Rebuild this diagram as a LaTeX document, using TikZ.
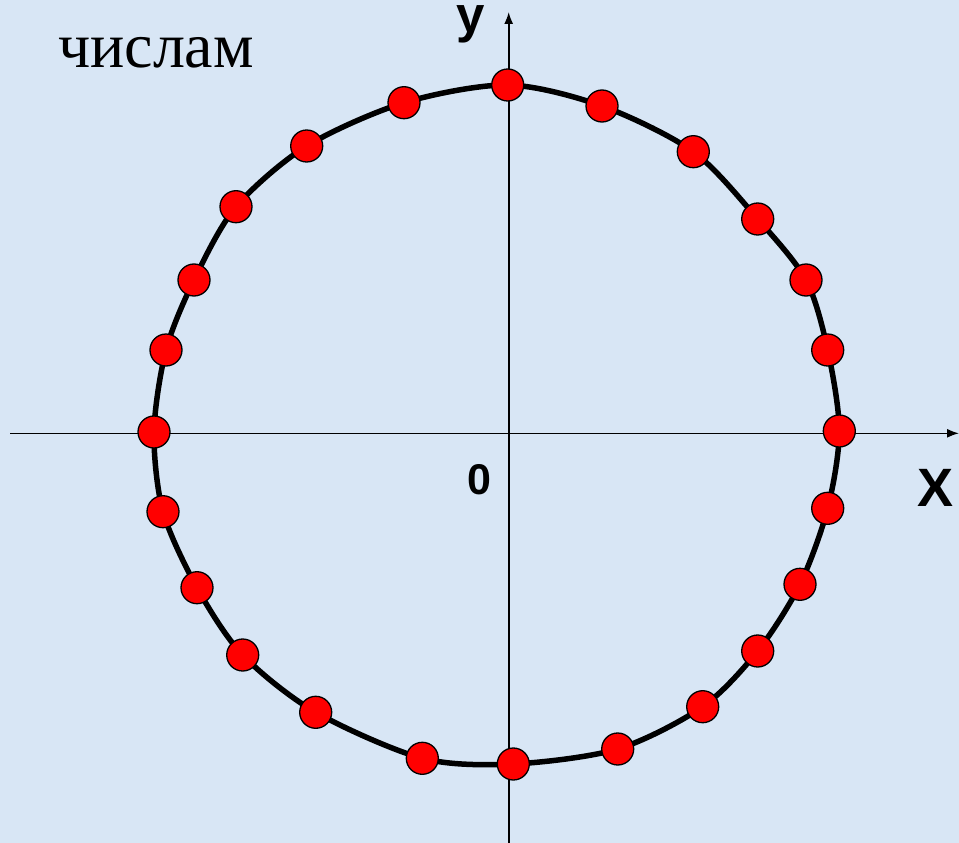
\documentclass[tikz,border=0pt]{standalone}
\usepackage{fontspec}
\setmainfont{Liberation Serif}
\newfontfamily\axisfont{Liberation Sans}
\usetikzlibrary{arrows.meta}
\definecolor{PaleSky}{RGB}{216,230,245}
\definecolor{DotRed}{RGB}{255,0,0}
\tikzset{
  axis/.style={-{Latex[length=12pt,width=9pt]},line width=1.6pt,black},
  ring/.style={line width=5.5pt,black},
  dot/.style={circle,draw=black,fill=DotRed,line width=1.3pt,
    minimum size=32pt,inner sep=0pt},
  axislabel/.style={inner sep=0pt}
}

\begin{document}
\begin{tikzpicture}[x=1pt,y=-1pt]

\clip (0,0) rectangle (959,843);
\fill[PaleSky] (0,0) rectangle (959,843);

% points on the circle, clockwise from the top
\foreach \px/\py [count=\i] in {507.7/85,602/106,693.3/151.7,757.7/219,
  806/280,827.7/350,839.3/431,827.7/508.3,800/584.3,757.7/651,702.7/706.7,
  617.7/749,513.3/764,422.3/758.3,315.7/712.3,242.7/655,197/587.7,
  163/511.7,154/432,166/350,194/280,236/206.7,306.7/146,404/102.7}
  \coordinate (p\i) at (\px,\py);

\coordinate (xstart) at (10,433.3);
\coordinate (xend) at (959,433.3);
\coordinate (ystart) at (508.7,843);
\coordinate (yend) at (508.7,12);

\draw[axis] (xstart) -- (xend);
\draw[axis] (ystart) -- (yend);

\draw[ring] plot[smooth cycle] coordinates {(p1) (p2) (p3) (p4) (p5) (p6)
  (p7) (p8) (p9) (p10) (p11) (p12) (p13) (p14) (p15) (p16) (p17) (p18)
  (p19) (p20) (p21) (p22) (p23) (p24)};

\foreach \i in {1,...,24}
  \node[dot] (d\i) at (p\i) {};

\node[anchor=base west,inner sep=0pt,font=\fontsize{64}{64}\selectfont]
  (caption) at (58,68) {числам};

\node[axislabel,anchor=base,font={\axisfont\bfseries\fontsize{51}{51}\selectfont}]
  (ylabel) at (471,33) {y};
\node[axislabel,font={\axisfont\bfseries\fontsize{43}{43}\selectfont}]
  (origin) at (479.3,480) {0};
\node[axislabel,font={\axisfont\bfseries\fontsize{54}{54}\selectfont}]
  (xlabel) at (935.5,487.5) {X};

\end{tikzpicture}
\end{document}
